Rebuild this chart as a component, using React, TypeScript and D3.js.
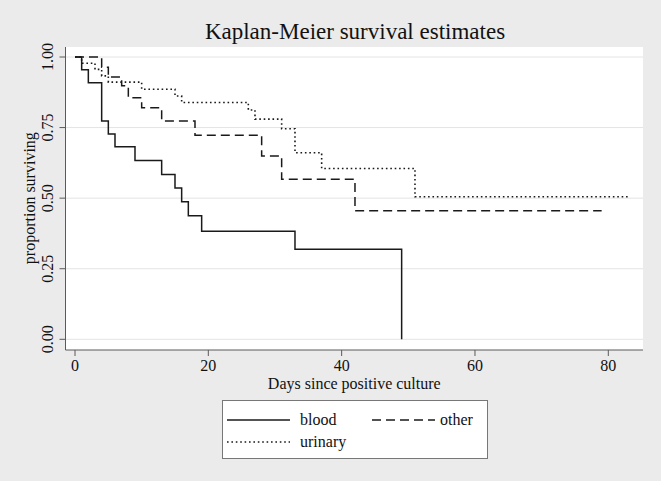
import React from "react";
import * as d3 from "d3";

const bloodTime = [0, 1, 2, 4, 5, 6, 9, 13, 15, 16, 17, 19, 33, 49];
const bloodSurv = [1, 0.955, 0.909, 0.773, 0.727, 0.682, 0.633, 0.584, 0.536, 0.487, 0.438, 0.383, 0.319, 0];

const otherTime = [0, 4, 5, 7, 8, 10, 13, 18, 28, 31, 42, 79];
const otherSurv = [1, 0.964, 0.929, 0.898, 0.856, 0.82, 0.773, 0.723, 0.649, 0.567, 0.455, 0.455];

const urinaryTime = [0, 1, 3, 4, 5, 10, 15, 16, 26, 27, 31, 33, 37, 51, 83];
const urinarySurv = [1, 0.978, 0.956, 0.933, 0.911, 0.886, 0.862, 0.839, 0.812, 0.78, 0.746, 0.661, 0.605, 0.505, 0.505];

const xTicks = [0, 20, 40, 60, 80];
const yTicks = [0, 0.25, 0.5, 0.75, 1];
const yTickLabels = ["0.00", "0.25", "0.50", "0.75", "1.00"];

const seriesNames = ["blood", "other", "urinary"];

const W = 661;
const H = 481;
const FONT = "'Liberation Serif', 'Times New Roman', serif";

export default function App() {
  const x = d3.scaleLinear().domain([0, 80]).range([75, 608.3]);
  const y = d3.scaleLinear().domain([0, 1]).range([339.3, 57]);

  const plotLeft = 65.5;
  const plotRight = 643;
  const plotTop = 47;
  const plotBottom = 350;

  const line = d3
    .line<[number, number]>()
    .x((d) => x(d[0]))
    .y((d) => y(d[1]))
    .curve(d3.curveStepAfter);

  const zip = (t: number[], s: number[]) => t.map((v, i) => [v, s[i]] as [number, number]);

  const styles: Record<string, { dash?: string; width: number }> = {
    blood: { width: 1.5 },
    other: { dash: "9,5", width: 1.5 },
    urinary: { dash: "1.6,2.8", width: 1.6 },
  };

  const series = [
    { name: "blood", data: zip(bloodTime, bloodSurv) },
    { name: "other", data: zip(otherTime, otherSurv) },
    { name: "urinary", data: zip(urinaryTime, urinarySurv) },
  ];

  const legendPos: Record<string, { lx: number; ly: number; tx: number }> = {
    blood: { lx: 227, ly: 420, tx: 300 },
    other: { lx: 372, ly: 420, tx: 440 },
    urinary: { lx: 227, ly: 442, tx: 300 },
  };

  return (
    <svg
      width={W}
      height={H}
      style={{ position: "absolute", left: 0, top: 0 }}
      fontFamily={FONT}
    >
      <rect x={0} y={0} width={W} height={H} fill="#ebebeb" />
      <rect
        x={plotLeft}
        y={plotTop}
        width={plotRight - plotLeft}
        height={plotBottom - plotTop}
        fill="#ffffff"
      />
      {yTicks.map((t) => (
        <line
          key={"g" + t}
          x1={plotLeft}
          x2={plotRight}
          y1={y(t)}
          y2={y(t)}
          stroke="#e4e4e4"
          strokeWidth={1}
        />
      ))}

      {series.map((s) => (
        <path
          key={s.name}
          d={line(s.data) || ""}
          fill="none"
          stroke="#1a1a1a"
          strokeWidth={styles[s.name].width}
          strokeDasharray={styles[s.name].dash}
        />
      ))}

      {/* y axis */}
      <line x1={plotLeft} x2={plotLeft} y1={plotTop} y2={plotBottom} stroke="#5a5a5a" strokeWidth={1} />
      {yTicks.map((t, i) => (
        <g key={"yt" + t}>
          <line x1={plotLeft - 6} x2={plotLeft} y1={y(t)} y2={y(t)} stroke="#5a5a5a" strokeWidth={1} />
          <text
            transform={`translate(53,${y(t)}) rotate(-90)`}
            textAnchor="middle"
            fontSize={16}
            fill="#111"
          >
            {yTickLabels[i]}
          </text>
        </g>
      ))}
      <text
        transform={`translate(35,${(y(0) + y(1)) / 2}) rotate(-90)`}
        textAnchor="middle"
        fontSize={16}
        fill="#111"
      >
        proportion surviving
      </text>

      {/* x axis */}
      <line x1={plotLeft} x2={plotRight} y1={plotBottom} y2={plotBottom} stroke="#5a5a5a" strokeWidth={1} />
      {xTicks.map((t) => (
        <g key={"xt" + t}>
          <line x1={x(t)} x2={x(t)} y1={plotBottom} y2={plotBottom + 6} stroke="#5a5a5a" strokeWidth={1} />
          <text x={x(t)} y={371} textAnchor="middle" fontSize={16} fill="#111">
            {t}
          </text>
        </g>
      ))}
      <text x={(plotLeft + plotRight) / 2} y={389} textAnchor="middle" fontSize={16} fill="#111">
        Days since positive culture
      </text>

      {/* title */}
      <text x={355} y={39} textAnchor="middle" fontSize={23} fill="#111">
        Kaplan-Meier survival estimates
      </text>

      {/* legend */}
      <rect x={222.5} y={400.5} width={265} height={58} fill="#ffffff" stroke="#777" strokeWidth={1} />
      {seriesNames.map((n) => {
        const p = legendPos[n];
        return (
          <g key={"lg" + n}>
            <line
              x1={p.lx}
              x2={p.lx + 63}
              y1={p.ly}
              y2={p.ly}
              stroke="#1a1a1a"
              strokeWidth={styles[n].width}
              strokeDasharray={styles[n].dash}
            />
            <text x={p.tx} y={p.ly + 5} fontSize={16} fill="#111">
              {n}
            </text>
          </g>
        );
      })}
    </svg>
  );
}
